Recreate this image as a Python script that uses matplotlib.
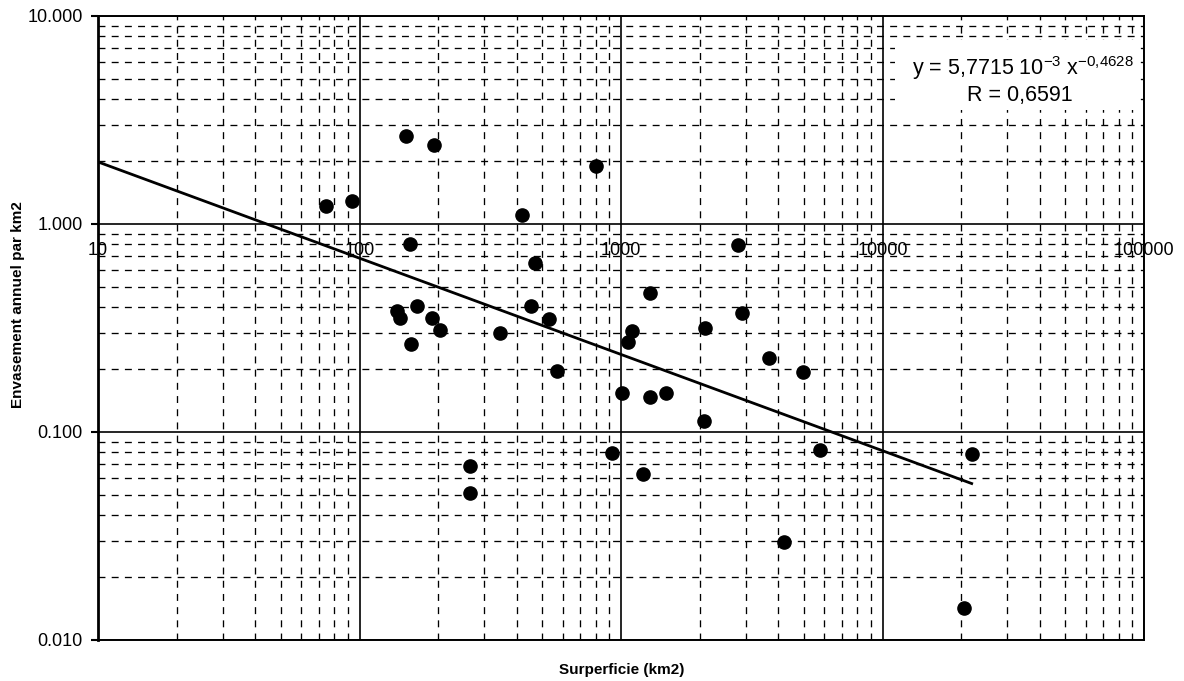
import matplotlib
matplotlib.use("Agg")
import matplotlib.pyplot as plt
import numpy as np
from matplotlib.patches import Rectangle
from matplotlib.ticker import LogLocator, NullFormatter, FixedLocator

plt.rcParams['font.family'] = ['Liberation Sans', 'DejaVu Sans']
plt.rcParams['mathtext.fontset'] = 'custom'
plt.rcParams['mathtext.rm'] = 'Liberation Sans'
plt.rcParams['mathtext.it'] = 'Liberation Sans:italic'
plt.rcParams['mathtext.bf'] = 'Liberation Sans:bold'
plt.rcParams['lines.scale_dashes'] = False

# Data (surface km2, annual siltation per km2)
surface = [74.4, 93.3, 150.5, 193, 801, 420, 155.8, 469.6, 2796, 1296,
           138.7, 142.7, 165.4, 189.6, 203, 156.8, 344, 453, 531, 567,
           1097, 1065, 2091, 2896, 1013, 1296, 1492, 2078, 920, 1215,
           264, 264, 3683, 4967, 5754, 4217, 21930, 20500]
envasement = [1.22, 1.29, 2.66, 2.40, 1.89, 1.11, 0.80, 0.647, 0.79, 0.464,
              0.383, 0.352, 0.403, 0.354, 0.309, 0.265, 0.300, 0.403, 0.349, 0.196,
              0.306, 0.272, 0.315, 0.372, 0.1535, 0.147, 0.1545, 0.113, 0.0795, 0.0626,
              0.0689, 0.0511, 0.226, 0.1936, 0.082, 0.0295, 0.0784, 0.0142]

coef_a = 5.7715
coef_b = -0.4628
trend_x_start = 10

x_ticks = [10, 100, 1000, 10000, 100000]
x_tick_labels = ["10", "100", "1000", "10000", "100000"]
y_ticks = [0.01, 0.1, 1, 10]
y_tick_labels = ["0.010", "0.100", "1.000", "10.000"]

eq_line1 = r"y = 5,7715 10$^{\mathrm{-3}}$ x$^{\mathrm{-0{,}4628}}$"
eq_line2 = "R = 0,6591"
xlabel = "Surperficie (km2)"
ylabel = "Envasement annuel par km2"

W, H = 1184, 681
fig = plt.figure(figsize=(W / 100, H / 100), dpi=100)
L, R, T, B = 98, 1144, 16, 640
ax = fig.add_axes([L / W, (H - B) / H, (R - L) / W, (B - T) / H])
ax.set_xscale('log')
ax.set_yscale('log')
ax.set_xlim(10, 100000)
ax.set_ylim(0.01, 10)

# grids
ax.xaxis.set_major_locator(FixedLocator(x_ticks))
ax.yaxis.set_major_locator(FixedLocator(y_ticks))
ax.xaxis.set_minor_locator(LogLocator(base=10, subs=np.arange(2, 10), numticks=20))
ax.yaxis.set_minor_locator(LogLocator(base=10, subs=np.arange(2, 10), numticks=20))
ax.xaxis.set_minor_formatter(NullFormatter())
ax.yaxis.set_minor_formatter(NullFormatter())
ax.set_axisbelow(True)
ax.grid(which='major', color='black', linewidth=1.2, linestyle='-')
ax.grid(which='minor', color='black', linewidth=0.95, linestyle=(0, (5, 4.5)))

ax.set_yticklabels(y_tick_labels, fontsize=13)
ax.set_xticklabels([])
ax.tick_params(axis='x', which='both', length=0)
ax.tick_params(axis='y', which='minor', length=0)
ax.tick_params(axis='y', which='major', length=5, width=1.5, direction='out', pad=6)

for s in ['top', 'right', 'bottom']:
    ax.spines[s].set_linewidth(1.4)
ax.spines['left'].set_linewidth(2.0)

# x tick labels at y = 1 crossing
for xv, lab in zip(x_ticks, x_tick_labels):
    ax.annotate(lab, xy=(xv, 1), xytext=(0, -13), textcoords='offset points',
                ha='center', va='top', fontsize=13, zorder=4)

# data
ax.plot(surface, envasement, 'o', color='black', markersize=9.5, zorder=5)

# trend line
xt = np.array([trend_x_start, max(surface)])
ax.plot(xt, coef_a * xt ** coef_b, color='black', linewidth=2.0, zorder=4)

# equation box
bx0, bx1 = (895 - L) / (R - L), (1137 - L) / (R - L)
by0, by1 = (B - 110) / (B - T), (B - 40) / (B - T)
ax.add_patch(Rectangle((bx0, by0), bx1 - bx0, by1 - by0, transform=ax.transAxes,
                       facecolor='white', edgecolor='none', zorder=2))
ax.text((1023 - L) / (R - L), (B - 68) / (B - T), eq_line1, transform=ax.transAxes,
        ha='center', va='center', fontsize=15.5, zorder=3)
ax.text((1020 - L) / (R - L), (B - 96) / (B - T), eq_line2, transform=ax.transAxes,
        ha='center', va='center', fontsize=15.5, zorder=3)

fig.text(18 / W, 1 - 305 / H, ylabel, rotation=90, ha='center', va='center',
         fontsize=11, fontweight='bold')
fig.text(622 / W, 1 - 670 / H, xlabel, ha='center', va='center',
         fontsize=11, fontweight='bold')

fig.savefig('out.png', dpi=100, facecolor='white')
